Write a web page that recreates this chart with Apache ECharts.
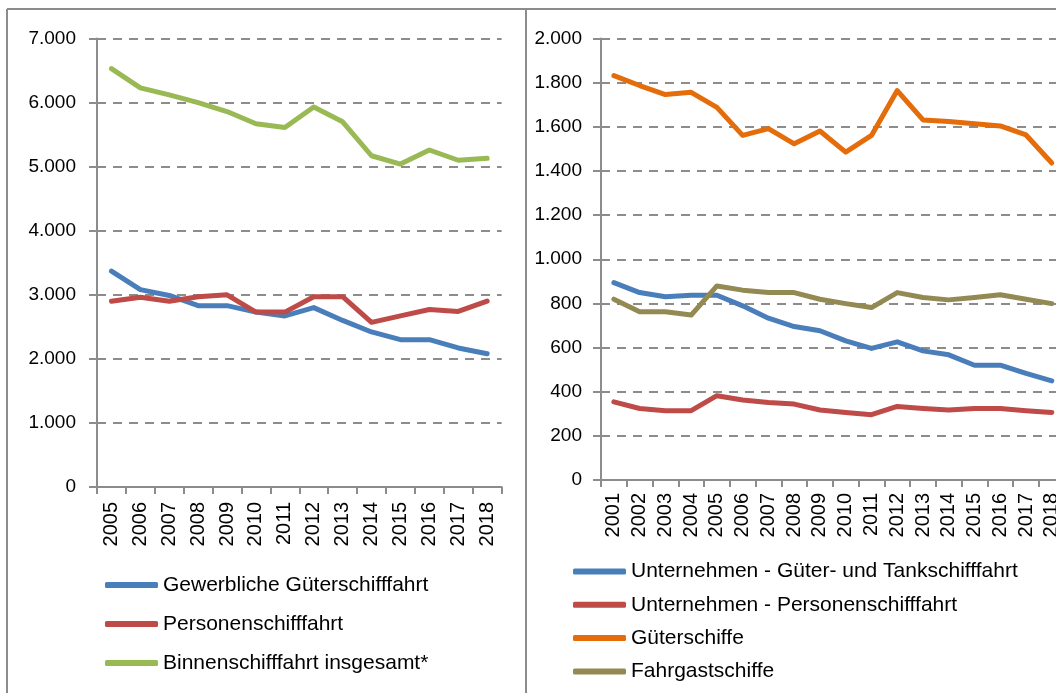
<!DOCTYPE html>
<html><head><meta charset="utf-8">
<script src="https://cdn.jsdelivr.net/npm/echarts@6/dist/echarts.min.js"></script>
<style>html,body{margin:0;padding:0;background:#fff;overflow:hidden;width:1056px;height:693px}#c{width:1070px;height:693px}</style>
</head><body><div id="c"></div>
<script>
// ---- data ----
const yearsLeft = ['2005','2006','2007','2008','2009','2010','2011','2012','2013','2014','2015','2016','2017','2018'];
const gewerbliche = [3370,3080,2990,2830,2830,2730,2670,2800,2600,2420,2300,2300,2170,2080];
const personen    = [2900,2960,2900,2970,3000,2730,2730,2970,2970,2570,2670,2770,2740,2900];
const binnen      = [6530,6230,6120,6000,5860,5670,5610,5930,5700,5170,5040,5260,5100,5130];

const yearsRight = ['2001','2002','2003','2004','2005','2006','2007','2008','2009','2010','2011','2012','2013','2014','2015','2016','2017','2018'];
const untGueter     = [894,849,830,837,837,789,733,695,676,630,596,626,585,567,520,520,483,449];
const untPersonen   = [354,324,314,314,382,362,351,344,317,306,296,333,324,317,324,324,314,306];
const gueterschiffe = [1832,1787,1746,1756,1688,1561,1592,1523,1581,1485,1561,1764,1631,1624,1614,1604,1563,1436];
const fahrgast      = [819,762,762,747,879,860,849,849,819,799,781,849,827,816,827,839,819,799];

const yTicksLeft  = ['0','1.000','2.000','3.000','4.000','5.000','6.000','7.000'];
const yTicksRight = ['0','200','400','600','800','1.000','1.200','1.400','1.600','1.800','2.000'];

const namesLeft  = ['Gewerbliche Güterschifffahrt','Personenschifffahrt','Binnenschifffahrt insgesamt*'];
const namesRight = ['Unternehmen - Güter- und Tankschifffahrt','Unternehmen - Personenschifffahrt','Güterschiffe','Fahrgastschiffe'];

// ---- styles ----
const FONT = "'Liberation Sans', Arial, sans-serif";
const GRAY = '#8c8c8c';
const C = {blue:'#4a7ebb', red:'#be4b48', green:'#98b954', orange:'#e46c0a', olive:'#938953'};

function xAxis(idx, data, margin){
  return {
    type:'category', gridIndex:idx, data:data, boundaryGap:true,
    axisLine:{show:true, lineStyle:{color:GRAY, width:2}},
    axisTick:{show:true, interval:0, length:7, lineStyle:{color:GRAY, width:2}},
    axisLabel:{interval:0, rotate:90, margin:margin, fontSize:20, color:'#000', fontFamily:FONT},
    splitLine:{show:false}
  };
}
function yAxis(idx, max, interval, ticks, margin){
  return {
    type:'value', gridIndex:idx, min:0, max:max, interval:interval,
    axisLine:{show:true, lineStyle:{color:GRAY, width:2}},
    axisTick:{show:true, length:8, lineStyle:{color:GRAY, width:2}},
    axisLabel:{margin:margin, fontSize:19, color:'#000', fontFamily:FONT,
      formatter:v => ticks[Math.round(v/interval)]},
    splitLine:{show:true, lineStyle:{color:GRAY, width:2, type:[9,7]}}
  };
}
function line(name, data, color, xi, yi){
  return {
    type:'line', name:name, data:data, xAxisIndex:xi, yAxisIndex:yi,
    symbol:'none', smooth:false, animation:false,
    lineStyle:{color:color, width:5, cap:'round', join:'round'},
    itemStyle:{color:color}
  };
}
function legend(names, left, top, gap){
  return {
    data:names, orient:'vertical', left:left, top:top, itemGap:gap, padding:0,
    height:200,
    icon:'roundRect', itemWidth:53, itemHeight:6,
    textStyle:{fontSize:21, color:'#000', fontFamily:FONT, lineHeight:21},
    selectedMode:false
  };
}

const chart = echarts.init(document.getElementById('c'), null, {renderer:'canvas'});
chart.setOption({
  animation:false,
  backgroundColor:'#fff',
  grid:[
    {left:97, top:38.5, width:14*28.9, height:448.5},
    {left:601, top:38.5, width:18*25.76, height:441.5}
  ],
  xAxis:[ xAxis(0, yearsLeft, 15), xAxis(1, yearsRight, 13) ],
  yAxis:[ yAxis(0, 7000, 1000, yTicksLeft, 21), yAxis(1, 2000, 200, yTicksRight, 19) ],
  legend:[ legend(namesLeft, 105, 574.5, 18), legend(namesRight, 573, 561, 12.3) ],
  series:[
    line(namesLeft[0], gewerbliche, C.blue, 0, 0),
    line(namesLeft[1], personen, C.red, 0, 0),
    line(namesLeft[2], binnen, C.green, 0, 0),
    line(namesRight[0], untGueter, C.blue, 1, 1),
    line(namesRight[1], untPersonen, C.red, 1, 1),
    line(namesRight[2], gueterschiffe, C.orange, 1, 1),
    line(namesRight[3], fahrgast, C.olive, 1, 1)
  ],
  graphic:[
    {type:'line', shape:{x1:7, y1:9, x2:1070, y2:9}, style:{stroke:GRAY, lineWidth:2}, silent:true},
    {type:'line', shape:{x1:7, y1:9, x2:7, y2:693}, style:{stroke:GRAY, lineWidth:2}, silent:true},
    {type:'line', shape:{x1:526, y1:9, x2:526, y2:693}, style:{stroke:GRAY, lineWidth:2}, silent:true}
  ]
});
</script>
</body></html>
